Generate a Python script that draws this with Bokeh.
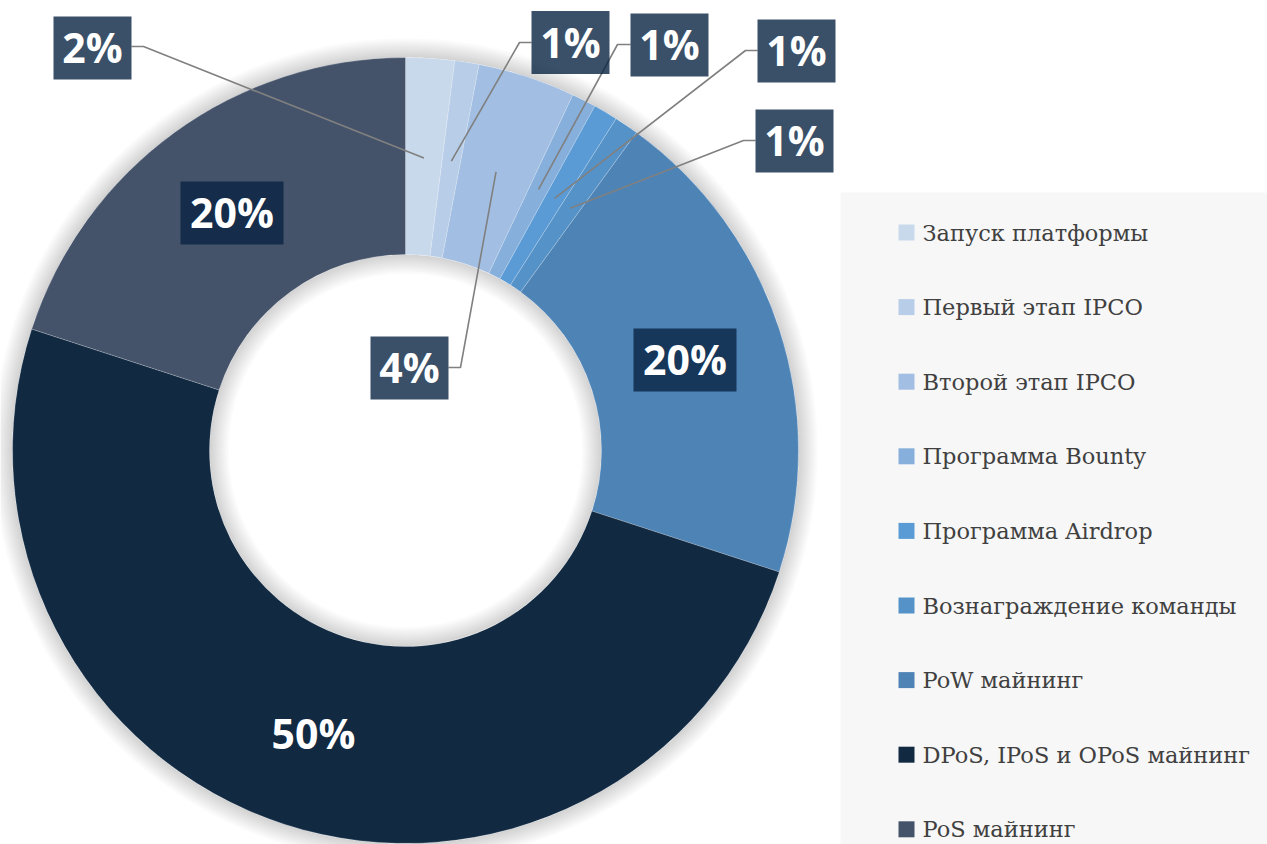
import numpy as np
from bokeh.plotting import figure
from bokeh.models import Range1d, ColumnDataSource
from bokeh.core.properties import value
from bokeh.embed import file_html
from bokeh.resources import INLINE

# ---------------- data ----------------
categories = [
    "Запуск платформы",
    "Первый этап IPCO",
    "Второй этап IPCO",
    "Программа Bounty",
    "Программа  Airdrop",
    "Вознаграждение команды",
    "PoW майнинг",
    "DPoS, IPoS и  OPoS майнинг",
    "PoS майнинг",
]
values = [2, 1, 4, 1, 1, 1, 20, 50, 20]
colors = ["#C9D9EC", "#B8CDE8", "#A2BEE2", "#86AFDC", "#5A9BD5",
          "#5592C8", "#4E83B6", "#112A42", "#45536A"]
labels = [f"{v}%" for v in values]

# ---------------- layout (pixel space, y measured from top) ----------------
W, H = 1267, 844
CX, CY = 405, 450
R_OUT, R_IN = 393, 196
R_ANCHOR = 293

def Y(y):
    return H - y

# label boxes: (center x, center y, width, elbow x, elbow y, side, box alpha)
box_layout = [
    (92, 47.5, 78, 143, 46, "right", 0.8),
    (570, 42, 78, 519, 42, "left", 0.8),
    (409, 367.5, 78, 460, 367, "right", 0.8),
    (669, 44.5, 78, 617, 44, "left", 0.8),
    (796, 50.5, 78, 745, 50, "left", 0.8),
    (794, 140.5, 78, 743, 140, "left", 0.8),
    (684.5, 359.5, 103, None, None, None, 0.8),
    (313, 733, 103, None, None, None, 0.0),
    (231.5, 212.5, 103, None, None, None, 0.8),
]
BOX_H = 63

p = figure(width=W, height=H, output_backend="svg", toolbar_location=None,
           x_range=Range1d(0, W), y_range=Range1d(0, H), min_border=0)
p.axis.visible = False
p.grid.visible = False
p.outline_line_color = None
p.background_fill_color = "white"
p.border_fill_color = "white"

# soft shadow around the ring
for k in range(1, 16):
    p.annulus(x=CX, y=Y(CY), inner_radius=R_OUT, outer_radius=R_OUT + k * 1.3,
              fill_color="black", fill_alpha=0.010, line_color=None)
    p.annulus(x=CX, y=Y(CY), inner_radius=R_IN - k * 1.3, outer_radius=R_IN,
              fill_color="black", fill_alpha=0.010, line_color=None)

# donut slices (clockwise from 12 o'clock)
vals = np.array(values, dtype=float)
frac = vals / vals.sum()
cum_end = np.cumsum(frac)
cum_start = cum_end - frac
start_angle = np.pi / 2 - 2 * np.pi * cum_end
end_angle = np.pi / 2 - 2 * np.pi * cum_start
src = ColumnDataSource(dict(start=start_angle, end=end_angle, color=colors, cat=categories))
p.annular_wedge(x=CX, y=Y(CY), inner_radius=R_IN, outer_radius=R_OUT,
                start_angle="start", end_angle="end", fill_color="color",
                line_color="white", line_width=0.4, line_alpha=0.5, source=src)

# leader lines
mid = 2 * np.pi * (cum_start + cum_end) / 2
ax = CX + R_ANCHOR * np.sin(mid)
ay = CY - R_ANCHOR * np.cos(mid)
xs, ys = [], []
for i, (bx, by, bw, ex, ey, side, _a) in enumerate(box_layout):
    if ex is None:
        continue
    edge_x = bx + bw / 2 if side == "right" else bx - bw / 2
    xs.append([ax[i], ex, edge_x])
    ys.append([Y(ay[i]), Y(ey), Y(ey)])
p.multi_line(xs=xs, ys=ys, line_color="#808080", line_width=1.6)

# label boxes and texts
bxs = [b[0] for b in box_layout]
bys = [Y(b[1]) for b in box_layout]
bws = [b[2] for b in box_layout]
balpha = [b[6] for b in box_layout]
p.rect(x=bxs, y=bys, width=bws, height=BOX_H, fill_color="#092442",
       fill_alpha=balpha, line_color=None)
p.text(x=bxs, y=[v + 1 for v in bys], text=labels, text_color="white",
       text_font=value("Open Sans"), text_font_style="bold",
       text_font_size="41px", text_align="center", text_baseline="middle")

# legend panel
p.quad(left=840, right=W, top=Y(192), bottom=0, fill_color="#F7F7F7", line_color=None)
row_y = [Y(232 + 74.6 * i) for i in range(len(categories))]
p.rect(x=[906] * len(categories), y=row_y, width=16, height=16,
       fill_color=colors, line_color=None)
p.text(x=[922] * len(categories), y=row_y, text=categories, text_color="#404040",
       text_font=value("DejaVu Serif"), text_font_size="22.5px",
       text_align="left", text_baseline="middle")

open("out.html", "w").write(file_html(p, INLINE))
